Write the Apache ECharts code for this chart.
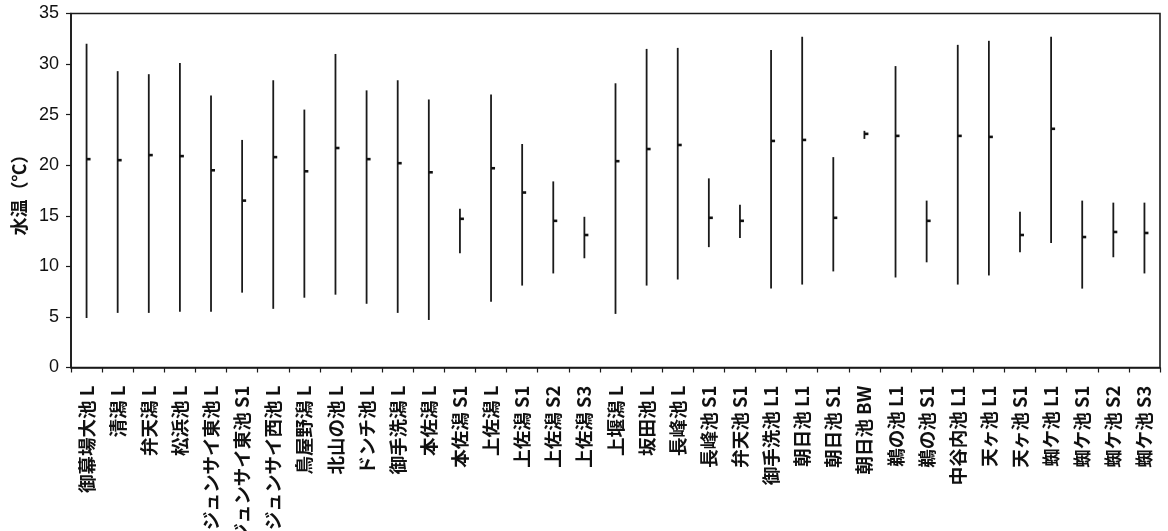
<!DOCTYPE html>
<html>
<head>
<meta charset="utf-8">
<style>
  html, body { margin: 0; padding: 0; background: #fff; }
  #chart { width: 1168px; height: 531px; }
</style>
<script src="https://cdn.jsdelivr.net/npm/echarts@6/dist/echarts.min.js"></script>
</head>
<body>
<div id="chart"></div>
<script>
// Water temperature range (min–max) and mean per site
const categories = [
  '御幕場大池 L', '清潟 L', '弁天潟 L', '松浜池 L', 'ジュンサイ東池 L', 'ジュンサイ東池 S1',
  'ジュンサイ西池 L', '鳥屋野潟 L', '北山の池 L', 'ドンチ池 L', '御手洗潟 L', '本佐潟 L',
  '本佐潟 S1', '上佐潟 L', '上佐潟 S1', '上佐潟 S2', '上佐潟 S3', '上堰潟 L', '坂田池 L',
  '長峰池 L', '長峰池 S1', '弁天池 S1', '御手洗池 L1', '朝日池 L1', '朝日池 S1', '朝日池 BW',
  '鵜の池 L1', '鵜の池 S1', '中谷内池 L1', '天ヶ池 L1', '天ヶ池 S1', '蜘ケ池 L1', '蜘ケ池 S1',
  '蜘ケ池 S2', '蜘ケ池 S3'
];
const maxTemp = [
  32.0, 29.3, 29.0, 30.1, 26.9, 22.5, 28.4, 25.5, 31.0, 27.4, 28.4, 26.5,
  15.7, 27.0, 22.1, 18.4, 14.9, 28.1, 31.5, 31.6, 18.7, 16.1, 31.4, 32.7,
  20.8, 23.4, 29.8, 16.5, 31.9, 32.3, 15.4, 32.7, 16.5, 16.3, 16.3
];
const minTemp = [
  4.9, 5.4, 5.4, 5.5, 5.5, 7.4, 5.8, 6.9, 7.2, 6.3, 5.4, 4.7,
  11.3, 6.5, 8.1, 9.3, 10.8, 5.3, 8.1, 8.7, 11.9, 12.8, 7.8, 8.2,
  9.5, 22.6, 8.9, 10.4, 8.2, 9.1, 11.4, 12.3, 7.8, 10.9, 9.3
];
const meanTemp = [
  20.6, 20.5, 21.0, 20.9, 19.5, 16.5, 20.8, 19.4, 21.7, 20.6, 20.2, 19.3,
  14.7, 19.7, 17.3, 14.5, 13.1, 20.4, 21.6, 22.0, 14.8, 14.5, 22.4, 22.5,
  14.8, 23.1, 22.9, 14.5, 22.9, 22.8, 13.1, 23.6, 12.9, 13.4, 13.3
];
const yTicks = { min: 0, max: 35, interval: 5 };

const rows = categories.map((c, i) => [i, minTemp[i], maxTemp[i], meanTemp[i]]);

const chart = echarts.init(document.getElementById('chart'), null, { renderer: 'canvas' });
chart.setOption({
  animation: false,
  backgroundColor: '#fff',
  grid: {
    left: 71, right: 8, top: 13.5, bottom: 163.5,
    containLabel: false, outerBoundsMode: 'none',
    show: true, borderColor: '#1a1a1a', borderWidth: 1.6, backgroundColor: 'transparent'
  },
  xAxis: {
    type: 'category',
    data: categories,
    boundaryGap: true,
    axisLine: { lineStyle: { color: '#1a1a1a', width: 1.6 } },
    axisTick: { show: true, inside: false, length: 5, lineStyle: { color: '#1a1a1a', width: 1.2 } },
    axisLabel: {
      interval: 0, rotate: 90, margin: 18,
      fontFamily: '"Noto Sans CJK JP", sans-serif', fontSize: 18.5, fontWeight: 'bold', color: '#111'
    },
    splitLine: { show: false }
  },
  yAxis: {
    type: 'value',
    min: yTicks.min, max: yTicks.max, interval: yTicks.interval,
    name: '水温（℃）',
    nameLocation: 'middle', nameRotate: 90, nameGap: 42,
    nameTextStyle: { fontFamily: '"Noto Sans CJK JP", sans-serif', fontSize: 18, fontWeight: 'bold', color: '#111' },
    axisLine: { show: true, lineStyle: { color: '#1a1a1a', width: 1.6 } },
    axisTick: { show: true, inside: false, length: 5, lineStyle: { color: '#1a1a1a', width: 1.2 } },
    axisLabel: { margin: 12, fontFamily: '"Liberation Sans", Arial, sans-serif', fontSize: 18, color: '#111' },
    splitLine: { show: false }
  },
  series: [{
    type: 'custom',
    data: rows,
    encode: { x: 0, y: [1, 2, 3] },
    renderItem: function (params, api) {
      const i = api.value(0);
      const lo = api.coord([i, api.value(1)]);
      const hi = api.coord([i, api.value(2)]);
      const mid = api.coord([i, api.value(3)]);
      return {
        type: 'group',
        children: [
          {
            type: 'line',
            shape: { x1: lo[0], y1: lo[1], x2: hi[0], y2: hi[1] },
            style: { stroke: '#1a1a1a', lineWidth: 1.8 }
          },
          {
            type: 'rect',
            shape: { x: mid[0], y: mid[1] - 1.3, width: 4, height: 2.6 },
            style: { fill: '#111' }
          }
        ]
      };
    }
  }]
});
</script>
</body>
</html>
